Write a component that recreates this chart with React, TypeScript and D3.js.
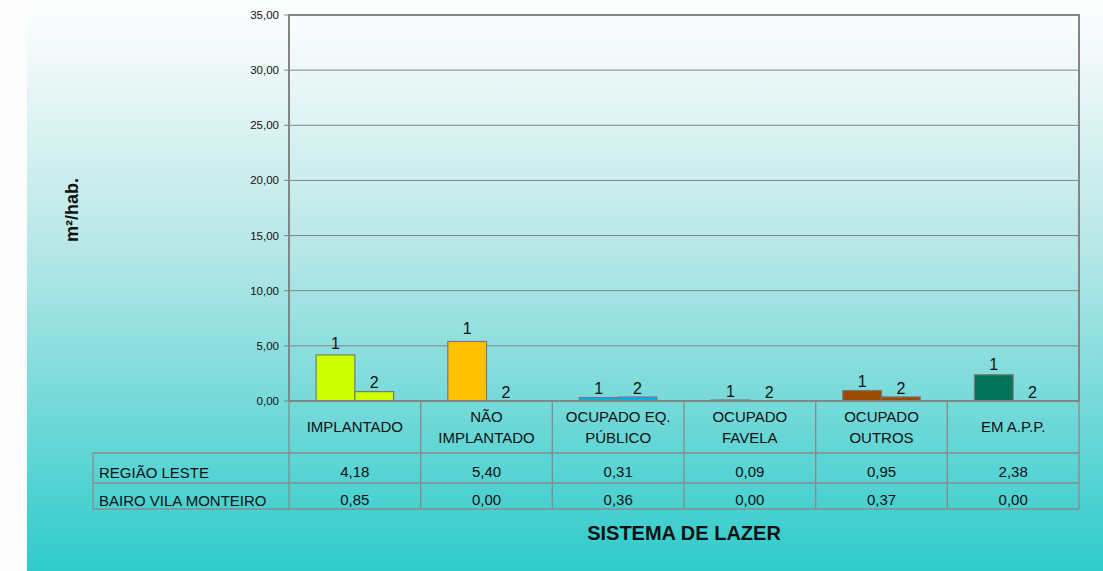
import React from "react";
import * as d3 from "d3";

const categories: string[][] = [
  ["IMPLANTADO"],
  ["NÃO", "IMPLANTADO"],
  ["OCUPADO EQ.", "PÚBLICO"],
  ["OCUPADO", "FAVELA"],
  ["OCUPADO", "OUTROS"],
  ["EM A.P.P."],
];
const seriesNames = ["REGIÃO LESTE", "BAIRO VILA MONTEIRO"];
const regiaoLeste = [4.18, 5.4, 0.31, 0.09, 0.95, 2.38];
const vilaMonteiro = [0.85, 0.0, 0.36, 0.0, 0.37, 0.0];
const barLabels = ["1", "2"];
const categoryColors = ["#ccff00", "#ffc000", "#00b0f0", "#9966cc", "#994c00", "#007256"];
const yTicks = [0, 5, 10, 15, 20, 25, 30, 35];

const W = 1103;
const H = 571;
const plot = { left: 289, right: 1079, top: 15, bottom: 401 };
const tableRows = [401, 453, 483, 509];
const tableLeft = 93;

const fmt = (v: number) => v.toFixed(2).replace(".", ",");

export default function App() {
  const series = [regiaoLeste, vilaMonteiro];
  const y = d3.scaleLinear().domain([0, 35]).range([plot.bottom, plot.top]);
  const x = d3
    .scaleBand<number>()
    .domain(d3.range(categories.length))
    .range([plot.left, plot.right]);
  const bw = x.bandwidth();
  const inner = d3
    .scaleBand<number>()
    .domain([0, 1])
    .range([0, bw])
    .paddingInner(0)
    .paddingOuter(0.7);
  const grid = "#848484";
  const font = "Liberation Sans, Arial, sans-serif";

  return (
    <svg
      width={W}
      height={H}
      style={{ position: "absolute", left: 0, top: 0, display: "block" }}
      fontFamily={font}
    >
      <defs>
        <linearGradient id="bg" x1="0" y1="0" x2="0" y2="1">
          <stop offset="0" stopColor="#fbfdfd" />
          <stop offset="0.08" stopColor="#f4fafa" />
          <stop offset="0.45" stopColor="#b4e6e6" />
          <stop offset="1" stopColor="#2ecbcb" />
        </linearGradient>
      </defs>
      <rect x={0} y={0} width={W} height={H} fill="#fcfcfc" />
      <rect x={27} y={0} width={W - 27} height={H} fill="url(#bg)" />

      {/* gridlines and ticks */}
      {yTicks.map((t) => (
        <g key={t}>
          <line x1={plot.left - 5} x2={plot.right} y1={y(t)} y2={y(t)} stroke={grid} strokeWidth={1} />
          <text x={plot.left - 10} y={y(t) + 4} textAnchor="end" fontSize={11.5} fill="#111">
            {fmt(t)}
          </text>
        </g>
      ))}

      {/* bars */}
      {categories.map((_, ci) =>
        series.map((s, si) => {
          const v = s[ci];
          const bx = (x(ci) as number) + (inner(si) as number);
          const top = y(v);
          return (
            <g key={`${ci}-${si}`}>
              {v > 0 && (
                <rect
                  x={bx}
                  y={top}
                  width={inner.bandwidth()}
                  height={plot.bottom - top}
                  fill={categoryColors[ci]}
                  stroke="#7a7a7a"
                  strokeWidth={1.2}
                />
              )}
              <text
                x={bx + inner.bandwidth() / 2}
                y={top - 3 - v * 0.8}
                textAnchor="middle"
                fontSize={16}
                fill="#111"
              >
                {barLabels[si]}
              </text>
            </g>
          );
        })
      )}

      {/* plot frame */}
      <rect
        x={plot.left}
        y={plot.top}
        width={plot.right - plot.left}
        height={plot.bottom - plot.top}
        fill="none"
        stroke="#858585"
        strokeWidth={2}
      />

      {/* data table */}
      <g stroke="#8a8a8a" strokeWidth={1.3} fill="none">
        <line x1={plot.left} x2={plot.left} y1={tableRows[0]} y2={tableRows[3]} />
        <line x1={plot.right} x2={plot.right} y1={tableRows[0]} y2={tableRows[3]} />
        <line x1={tableLeft} x2={tableLeft} y1={tableRows[1]} y2={tableRows[3]} />
        {categories.map((_, ci) =>
          ci > 0 ? (
            <line key={ci} x1={x(ci)} x2={x(ci)} y1={tableRows[0]} y2={tableRows[3]} />
          ) : null
        )}
        <line x1={tableLeft} x2={plot.right} y1={tableRows[1]} y2={tableRows[1]} />
        <line x1={tableLeft} x2={plot.right} y1={tableRows[2]} y2={tableRows[2]} />
        <line x1={tableLeft} x2={plot.right} y1={tableRows[3]} y2={tableRows[3]} />
      </g>

      {categories.map((lines, ci) => {
        const cx = (x(ci) as number) + bw / 2;
        const mid = (tableRows[0] + tableRows[1]) / 2;
        return (
          <text key={ci} textAnchor="middle" fontSize={15} fill="#111">
            {lines.map((ln, li) => (
              <tspan
                key={li}
                x={cx}
                y={mid + 5 + (li - (lines.length - 1) / 2) * 21}
              >
                {ln}
              </tspan>
            ))}
          </text>
        );
      })}

      {seriesNames.map((name, si) => {
        const r1 = tableRows[si + 2];
        const base = r1 - (si === 0 ? 6 : 4);
        return (
          <g key={name}>
            <text x={tableLeft + 6} y={base + 1} fontSize={15} fill="#111">
              {name}
            </text>
            {series[si].map((v, ci) => (
              <text
                key={ci}
                x={(x(ci) as number) + bw / 2}
                y={base}
                textAnchor="middle"
                fontSize={15}
                fill="#111"
              >
                {fmt(v)}
              </text>
            ))}
          </g>
        );
      })}

      {/* axis titles */}
      <text
        transform={`translate(${78},${210}) rotate(-90)`}
        textAnchor="middle"
        fontSize={18}
        fontWeight="bold"
        fill="#111"
      >
        m²/hab.
      </text>
      <text x={684} y={540} textAnchor="middle" fontSize={20} fontWeight="bold" fill="#111">
        SISTEMA DE LAZER
      </text>
    </svg>
  );
}
